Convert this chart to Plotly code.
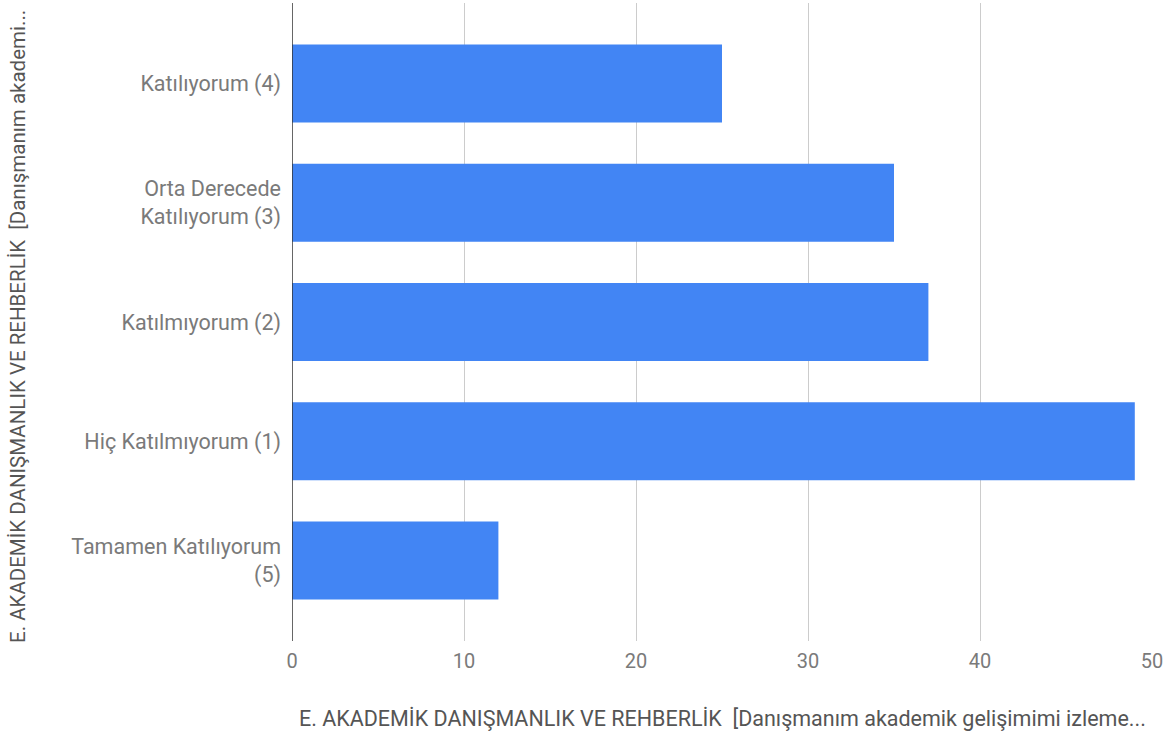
import plotly.graph_objects as go

categories = ["Katılıyorum (4)", "Orta Derecede<br>Katılıyorum (3)", "Katılmıyorum (2)",
              "Hiç Katılmıyorum (1)", "Tamamen Katılıyorum<br>(5)"]
counts = [25, 35, 37, 49, 12]
x_ticks = [0, 10, 20, 30, 40, 50]

x_title = "E. AKADEMİK DANIŞMANLIK VE REHBERLİK  [Danışmanım akademik gelişimimi izleme..."
y_title = "E. AKADEMİK DANIŞMANLIK VE REHBERLİK  [Danışmanım akademi..."

grey = "#7a7a7a"
title_grey = "#555555"

fig = go.Figure(go.Bar(
    x=counts,
    y=categories,
    orientation="h",
    marker=dict(color="#4285F4", line=dict(width=0)),
    width=0.655,
))

fig.update_layout(
    width=1172,
    height=736,
    margin=dict(l=292, r=20, t=3, b=95),
    paper_bgcolor="white",
    plot_bgcolor="white",
    font=dict(family="Roboto", color=grey),
    showlegend=False,
    xaxis=dict(
        range=[0, 50],
        tickvals=x_ticks,
        automargin=False,
        showgrid=True,
        gridcolor="#cccccc",
        gridwidth=1,
        zeroline=False,
        showline=False,
        tickfont=dict(size=20, color=grey),
        ticklabelstandoff=6,
    ),
    yaxis=dict(
        type="category",
        range=[4.675, -0.675],
        automargin=False,
        showgrid=False,
        zeroline=False,
        showline=False,
        tickfont=dict(size=21.5, color=grey),
        ticklabelstandoff=10,
    ),
    shapes=[dict(type="line", xref="x", yref="paper", x0=0, x1=0, y0=0, y1=1,
                 line=dict(color="#333333", width=1.5))],
    annotations=[
        dict(text=x_title, xref="paper", yref="paper", x=0.5, y=0, yshift=-77,
             xanchor="center", yanchor="middle", showarrow=False,
             font=dict(size=21.5, color=title_grey)),
        dict(text=y_title, xref="paper", yref="paper", x=0, xshift=-274, y=0.5, yshift=-5,
             xanchor="center", yanchor="middle", textangle=-90, showarrow=False,
             font=dict(size=20.5, color=title_grey)),
    ],
)

# drop the browser's default body margin so the chart sits at the page corner
fig.write_html("out.html", config={"displayModeBar": False},
               post_script="document.body.style.margin='0';")
